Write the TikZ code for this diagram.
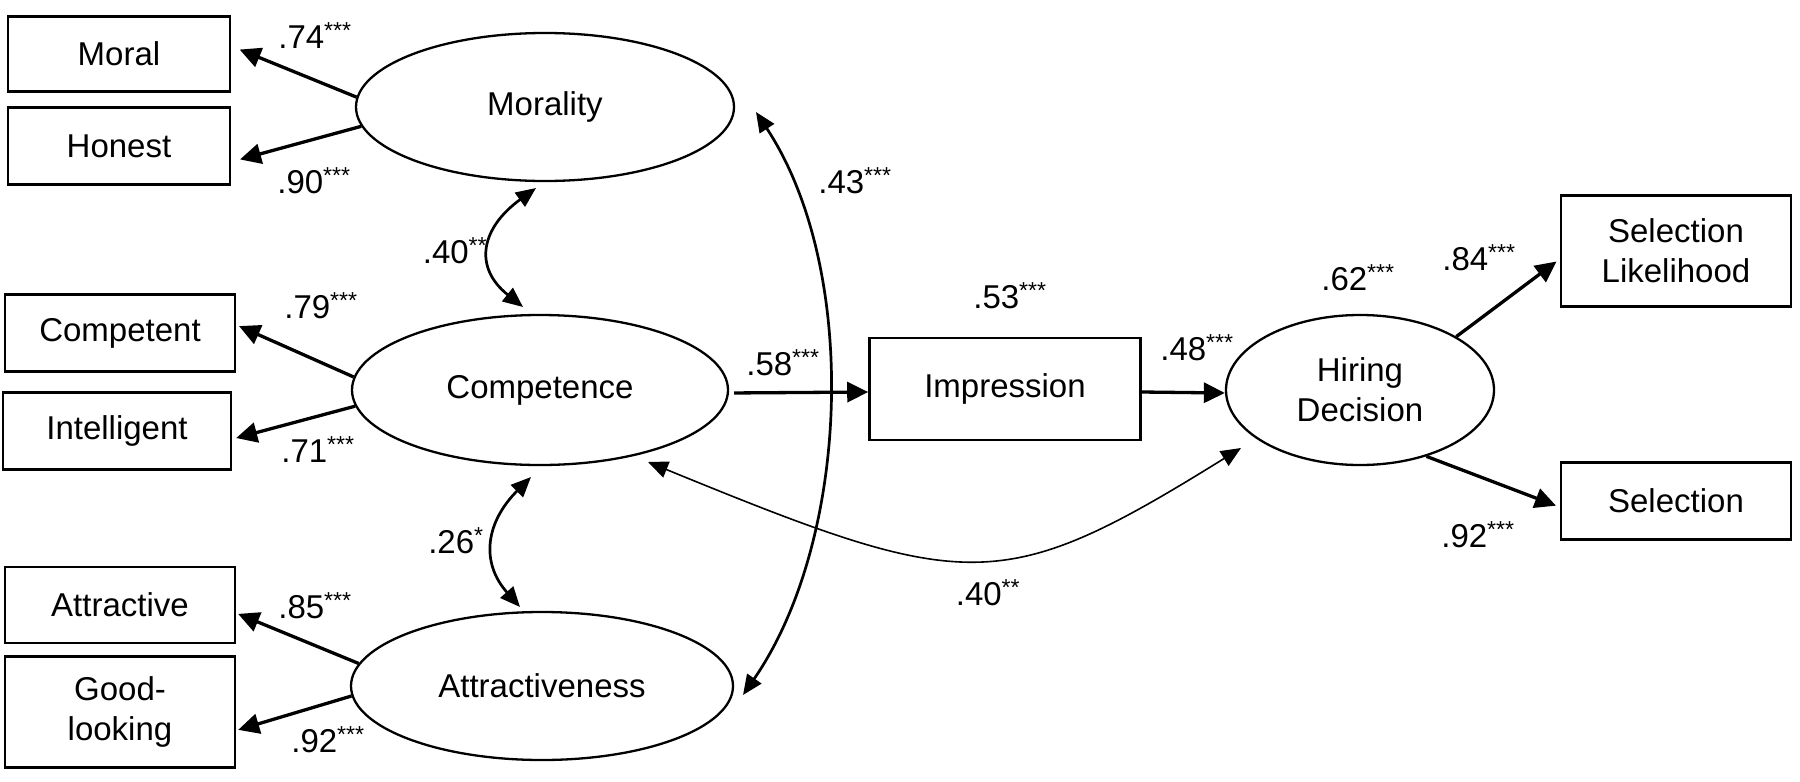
\documentclass[tikz,border=0pt]{standalone}
\usepackage{fontspec}
\setmainfont{Liberation Sans}
\usetikzlibrary{arrows.meta,shapes.geometric}
\begin{document}
\begin{tikzpicture}[x=1pt,y=-1pt,
  txt/.style={font=\fontsize{33}{40}\selectfont},
  box/.style={txt,draw,line width=2.6pt,inner sep=0pt,align=center},
  lat/.style={txt,draw,ellipse,line width=2.3pt,inner sep=0pt,align=center},
  lab/.style={txt,inner sep=0pt,anchor=base},
  load/.style={line width=3.3pt,-{Triangle[length=21pt,width=20pt]}},
  cov/.style={line width=2.7pt,{Triangle[length=20pt,width=17pt]}-{Triangle[length=20pt,width=17pt]}},
  thincov/.style={line width=1.6pt,{Triangle[length=20pt,width=17pt]}-{Triangle[length=20pt,width=17pt]}}
]
\useasboundingbox (0,0) rectangle (1800,782);
\fill[white] (0,0) rectangle (1800,782);

% observed indicators (left)
\node[box,minimum width=222pt,minimum height=75pt] (moral) at (119,54) {Moral};
\node[box,minimum width=222pt,minimum height=77pt] (honest) at (119,146) {Honest};
\node[box,minimum width=230pt,minimum height=77pt] (competent) at (120,333) {Competent};
\node[box,minimum width=228pt,minimum height=77pt] (intelligent) at (117,431) {Intelligent};
\node[box,minimum width=230pt,minimum height=76pt] (attractive) at (120,605) {Attractive};
\node[box,minimum width=230pt,minimum height=111pt] (good) at (120,712) {Good-\\looking};

% latent variables
\node[lat,minimum width=378pt,minimum height=148pt] (mor) at (545,107) {Morality};
\node[lat,minimum width=376pt,minimum height=150pt] (comp) at (540,390) {Competence};
\node[lat,minimum width=382pt,minimum height=148pt] (att) at (542,686) {Attractiveness};

% mediator and outcome
\node[box,minimum width=271pt,minimum height=102pt] (imp) at (1005,389) {Impression};
\node[lat,minimum width=268pt,minimum height=150pt] (hir) at (1360,390) {Hiring\\Decision};
\node[box,minimum width=230pt,minimum height=111pt] (sellik) at (1676,251) {Selection\\Likelihood};
\node[box,minimum width=230pt,minimum height=77pt] (sel) at (1676,501) {Selection};

% loadings
\draw[load,shorten >=9pt] (mor.177) -- (moral.4);
\draw[load,shorten >=9pt] (mor.186) -- (honest.-8);
\draw[load,shorten >=3pt] (comp.176) -- (competent.4);
\draw[load,shorten >=4pt] (comp.185) -- (intelligent.-4);
\draw[load,shorten >=2pt] (att.173) -- (attractive.-4);
\draw[load,shorten >=2pt] (att.183) -- (good.-9);
\draw[load,shorten >=4pt] (hir.29) -- (sellik.184);
\draw[load,shorten >=4pt] (hir.-45) -- (sel.183);

% structural paths
\draw[load,shorten <=5pt] ([yshift=-3pt]comp.east) -- ([yshift=-3pt]imp.west);
\draw[load] ([yshift=-3pt]imp.east) -- ([yshift=-3pt]hir.west);

% covariances
\draw[cov] ([xshift=-9pt,yshift=-81pt]mor.center)
  .. controls +(-55,40) and +(-50,-40) .. ([xshift=-17pt,yshift=83pt]comp.center);
\draw[cov] ([xshift=-9pt,yshift=-87pt]comp.center)
  .. controls +(-45,45) and +(-40,-45) .. ([xshift=-22pt,yshift=79pt]att.center);
\draw[cov] ([xshift=211pt,yshift=-5pt]mor.center)
  .. controls +(104,158) and +(107,-155) .. ([xshift=201pt,yshift=-9pt]att.center);
\draw[thincov] ([xshift=108pt,yshift=-72pt]comp.center)
  .. controls +(320,131) and +(-240,149) .. ([xshift=-119pt,yshift=-58pt]hir.center);

% coefficients
\node[lab] (l74) at (315,48) {.74\textsuperscript{***}};
\node[lab] (l90) at (314,193) {.90\textsuperscript{***}};
\node[lab] (l40a) at (455,263) {.40\textsuperscript{**}};
\node[lab] (l79) at (321,318) {.79\textsuperscript{***}};
\node[lab] (l58) at (783,375) {.58\textsuperscript{***}};
\node[lab] (l71) at (318,462) {.71\textsuperscript{***}};
\node[lab] (l26) at (456,553) {.26\textsuperscript{*}};
\node[lab] (l85) at (315,618) {.85\textsuperscript{***}};
\node[lab] (l92a) at (328,752) {.92\textsuperscript{***}};
\node[lab] (l43) at (855,193) {.43\textsuperscript{***}};
\node[lab] (l53) at (1010,308) {.53\textsuperscript{***}};
\node[lab] (l48) at (1197,360) {.48\textsuperscript{***}};
\node[lab] (l62) at (1358,290) {.62\textsuperscript{***}};
\node[lab] (l84) at (1479,270) {.84\textsuperscript{***}};
\node[lab] (l40b) at (988,605) {.40\textsuperscript{**}};
\node[lab] (l92b) at (1478,547) {.92\textsuperscript{***}};
\end{tikzpicture}
\end{document}
